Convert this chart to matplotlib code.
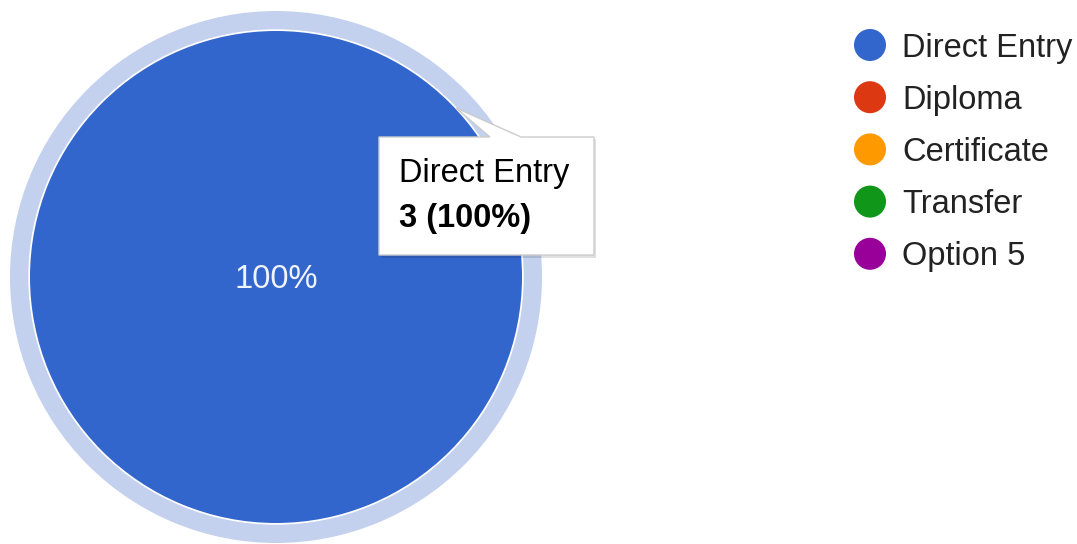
import matplotlib
matplotlib.use("Agg")
import matplotlib.pyplot as plt
from matplotlib.patches import Wedge, Polygon, Circle

# ── Data ──────────────────────────────────────────────────────────
categories = ["Direct Entry", "Diploma", "Certificate", "Transfer", "Option 5"]
values     = [3, 0, 0, 0, 0]
colors     = ["#3366cc", "#dc3912", "#ff9900", "#109618", "#990099"]

FONT = "Liberation Sans"
W, H, DPI = 1077, 544, 100

fig = plt.figure(figsize=(W / DPI, H / DPI), dpi=DPI)
fig.patch.set_facecolor("white")

# ── Pie ───────────────────────────────────────────────────────────
cx, cy = 276, 277          # centre in pixels, from top-left
r_pie, r_ring = 246, 266   # slice radius and hover-ring outer radius
scale = r_ring / r_pie

ax = fig.add_axes([(cx - r_ring) / W, (H - cy - r_ring) / H,
                   2 * r_ring / W, 2 * r_ring / H])

total = sum(values)
wedges, _, autotexts = ax.pie(
    values, colors=colors, startangle=90, counterclock=False, radius=1,
    autopct=lambda p: f"{p:.0f}%" if p > 0 else "", pctdistance=0,
    wedgeprops=dict(edgecolor="none", linewidth=0),
    textprops=dict(color="#f2f4fb", fontsize=23.5, family=FONT),
)
for t in autotexts:
    t.set_va("center")
    t.set_y(t.get_position()[1] - 0.01)

# pie() resets the limits, so set them afterwards
ax.set_xlim(-scale, scale)
ax.set_ylim(-scale, scale)
ax.set_aspect("equal")
ax.axis("off")

# highlight ring around the hovered slice (thin white gap inside)
ring = Wedge((0, 0), scale, 0, 360, width=scale - 1.007,
             facecolor="#c3d1ef", edgecolor="none")
ax.add_patch(ring)

# ── Overlay in pixel coordinates (legend + tooltip) ──────────────
ov = fig.add_axes([0, 0, 1, 1])
ov.set_xlim(0, W)
ov.set_ylim(H, 0)
ov.axis("off")

leg_x, leg_y0, leg_dy = 870, 45, 52.2
for i, (name, col) in enumerate(zip(categories, colors)):
    y = leg_y0 + i * leg_dy
    ov.add_patch(Circle((leg_x, y), 16, facecolor=col, edgecolor="none"))
    ov.text(leg_x + 32, y + 11.5, name, fontsize=23.5, family=FONT,
            color="#222222", va="baseline", ha="left")

# tooltip box with callout pointing at the slice
bx0, by0, bx1, by1 = 379, 137, 594, 255
tip = (456, 108)
shadow = [(bx0 + 2, by0 + 2), (490 + 2, by0 + 2), (tip[0] + 2, tip[1] + 2),
          (521 + 2, by0 + 2), (bx1 + 2, by0 + 2), (bx1 + 2, by1 + 3),
          (bx0 + 2, by1 + 3)]
ov.add_patch(Polygon(shadow, closed=True, facecolor="#000000",
                     alpha=0.12, edgecolor="none"))
outline = [(bx0, by0), (490, by0), tip, (521, by0), (bx1, by0),
           (bx1, by1), (bx0, by1)]
ov.add_patch(Polygon(outline, closed=True, facecolor="white",
                     edgecolor="#cccccc", linewidth=1.0))

pct = 100 * values[0] / total
ov.text(bx0 + 20, 182, categories[0], fontsize=23.5, family=FONT,
        color="#000000", va="baseline", ha="left")
ov.text(bx0 + 20, 227, f"{values[0]} ({pct:.0f}%)", fontsize=23.5,
        family=FONT, fontweight="bold", color="#000000",
        va="baseline", ha="left")

fig.savefig("out.png", dpi=DPI, facecolor="white")
